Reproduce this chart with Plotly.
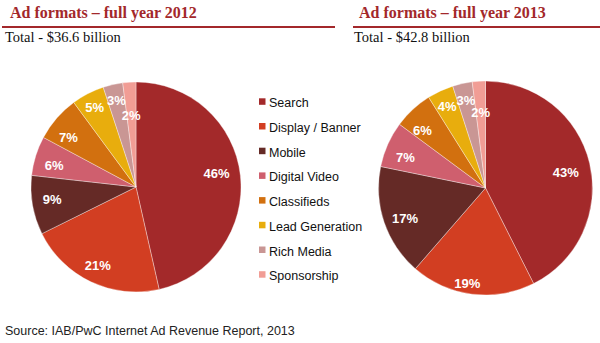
import plotly.graph_objects as go

W, H = 600, 343

categories = ["Search", "Display / Banner", "Mobile", "Digital Video",
              "Classifieds", "Lead Generation", "Rich Media", "Sponsorship"]
share_2012 = [46, 21, 9, 6, 7, 5, 3, 2]
share_2013 = [43, 19, 17, 7, 6, 4, 3, 2]
colors = ["#a3292a", "#d23e22", "#652a26", "#cf5f6e",
          "#d2700f", "#e8ad0d", "#c99694", "#f19d95"]
titles = ["Ad formats \u2013 full year 2012", "Ad formats \u2013 full year 2013"]
totals = ["Total - $36.6 billion", "Total - $42.8 billion"]
source = "Source: IAB/PwC Internet Ad Revenue Report, 2013"

TITLE_COLOR = "#a3282b"
# label placement per slice: ring size (share of pie radius), text mode, angular nudge
ring_2012 = [0.62, 0.71, 0.68, 0.68, 0.68, 0.99, 0.92, 0.73]
ring_2013 = [0.61, 0.82, 0.65, 0.68, 0.68, 0.95, 0.92, 0.75]
mode_2012 = ["outside"] * 5 + ["inside"] * 3
mode_2013 = ["outside"] * 5 + ["inside"] * 3
nudge_2012 = [-5, -9, 0, 0, 0, 0, 0, 0]
nudge_2013 = [0, -6.5, -5.7, 0, 0, 0, 0, 0]


def px(x):
    return x / W


def py(y):
    return 1 - y / H


def dom(cx, cy, r):
    return dict(x=[px(cx - r), px(cx + r)], y=[py(cy + r), py(cy - r)])


fig = go.Figure()
pies = [(share_2012, ring_2012, mode_2012, nudge_2012, (136, 187, 105)),
        (share_2013, ring_2013, mode_2013, nudge_2013, (485.5, 188, 107))]
label_font = dict(family="Liberation Sans, Arial", size=13, color="white")
for vals, rings, modes, nudges, (cx, cy, r) in pies:
    fig.add_trace(go.Pie(
        labels=categories, values=vals, textinfo="none",
        sort=False, direction="clockwise", rotation=0,
        marker=dict(colors=colors, line=dict(color="rgba(255,255,255,0.5)", width=0.7)),
        text=[f"{v}%" for v in vals], hoverinfo="label+text",
        showlegend=False, domain=dom(cx, cy, r),
    ))
    # transparent pies, one per slice, each carrying a single percentage label
    for k in range(len(vals)):
        txt = [f"<b>{v}%</b>" if j == k else "" for j, v in enumerate(vals)]
        fig.add_trace(go.Pie(
            labels=categories, values=vals,
            text=txt, textinfo="text", textposition=modes[k],
            insidetextorientation="horizontal",
            sort=False, direction="clockwise", rotation=nudges[k],
            marker=dict(colors=["rgba(0,0,0,0)"] * len(vals), line=dict(width=0)),
            outsidetextfont=label_font, insidetextfont=label_font,
            hoverinfo="skip", showlegend=False, automargin=False,
            domain=dom(cx, cy, r * rings[k]),
        ))

annotations = []
shapes = []
for t, tot, tx, lx0, lx1 in zip(titles, totals, [8, 357], [2, 353], [335, 600]):
    annotations.append(dict(text=f"<b>{t}</b>", x=px(tx), y=py(13.5), xref="paper", yref="paper",
                            xanchor="left", yanchor="middle", showarrow=False,
                            font=dict(family="Liberation Serif, Georgia, serif", size=16, color=TITLE_COLOR)))
    annotations.append(dict(text=tot, x=px(tx - 5), y=py(37), xref="paper", yref="paper",
                            xanchor="left", yanchor="middle", showarrow=False,
                            font=dict(family="Liberation Serif, Georgia, serif", size=14.5, color="#111")))
    shapes.append(dict(type="line", xref="paper", yref="paper", x0=px(lx0), x1=px(lx1),
                       y0=py(27), y1=py(27), line=dict(color=TITLE_COLOR, width=2)))

for i, (c, col) in enumerate(zip(categories, colors)):
    yc = 103.3 + 24.7 * i
    shapes.append(dict(type="rect", xref="paper", yref="paper",
                       x0=px(259), x1=px(265.5), y0=py(yc - 5), y1=py(yc + 1.5),
                       fillcolor=col, line=dict(width=0)))
    annotations.append(dict(text=c, x=px(267), y=py(yc), xref="paper", yref="paper",
                            xanchor="left", yanchor="middle", showarrow=False,
                            font=dict(family="Liberation Sans, Arial", size=12.5, color="#111")))

annotations.append(dict(text=source, x=px(3), y=py(330.5), xref="paper", yref="paper",
                        xanchor="left", yanchor="middle", showarrow=False,
                        font=dict(family="Liberation Sans, Arial", size=12.5, color="#222")))

fig.update_layout(width=W, height=H, margin=dict(l=0, r=0, t=0, b=0),
                  paper_bgcolor="white", plot_bgcolor="white",
                  annotations=annotations, shapes=shapes,
                  uniformtext=dict(minsize=13, mode="show"))
fig.write_html("out.html")
